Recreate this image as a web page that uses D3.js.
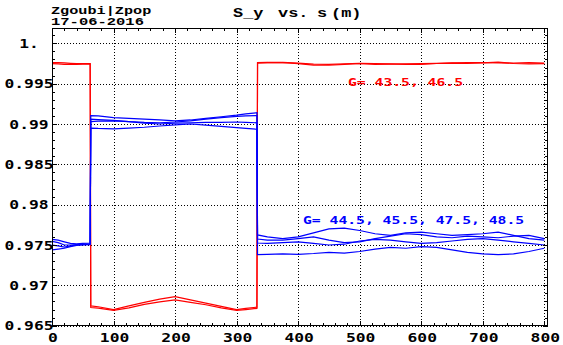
<!DOCTYPE html>
<html>
<head>
<meta charset="utf-8">
<script src="https://cdn.jsdelivr.net/npm/d3@7"></script>
<style>
  html, body { margin: 0; padding: 0; background: #fff; }
  svg { display: block; }
</style>
</head>
<body>
<svg id="chart" width="563" height="345"></svg>
<script>
// Tick values and their printed labels
const xTicks = [0, 100, 200, 300, 400, 500, 600, 700, 800];
const xTickLabels = ["0", "100", "200", "300", "400", "500", "600", "700", "800"];
const yTicks = [0.965, 0.97, 0.975, 0.98, 0.985, 0.99, 0.995, 1.0];
const yTickLabels = ["0.965", "0.97", "0.975", "0.98", "0.985", "0.99", "0.995", "1."];

// Path length s (m) at which each turn value is sampled
const sPos = [
  0, 10, 20, 30, 40, 50, 62,
  63, 75, 100, 125, 150, 175, 200, 225, 250, 275, 300, 315, 333,
  334, 350, 375, 400, 425, 450, 475, 500, 525, 550, 575, 600, 625, 650, 675, 700, 725, 750, 775, 800
];

// S_y, red group (G = 43.5, 46.5)
const redG435 = [
  0.99762, 0.99760, 0.99757, 0.99752, 0.99748, 0.99748, 0.99749,
  0.96745, 0.96735, 0.96700, 0.96745, 0.96790, 0.96830, 0.96860, 0.96820, 0.96780, 0.96740, 0.96700, 0.96715, 0.96730,
  0.99755, 0.99760, 0.99765, 0.99755, 0.99742, 0.99738, 0.99745, 0.99752, 0.99748, 0.99745, 0.99738, 0.99740, 0.99750, 0.99758, 0.99760, 0.99762, 0.99758, 0.99755, 0.99760, 0.99755
];
const redG465 = [
  0.99748, 0.99745, 0.99740, 0.99738, 0.99740, 0.99742, 0.99745,
  0.96725, 0.96718, 0.96690, 0.96720, 0.96765, 0.96795, 0.96820, 0.96790, 0.96760, 0.96720, 0.96690, 0.96700, 0.96715,
  0.99760, 0.99765, 0.99760, 0.99748, 0.99730, 0.99728, 0.99740, 0.99750, 0.99740, 0.99742, 0.99745, 0.99748, 0.99752, 0.99755, 0.99750, 0.99758, 0.99768, 0.99750, 0.99745, 0.99748
];

// S_y, blue group (G = 44.5, 45.5, 47.5, 48.5)
const blueG445 = [
  0.97570, 0.97560, 0.97540, 0.97520, 0.97515, 0.97520, 0.97525,
  0.99105, 0.99100, 0.99080, 0.99070, 0.99060, 0.99050, 0.99040, 0.99050, 0.99070, 0.99090, 0.99110, 0.99125, 0.99140,
  0.97625, 0.97600, 0.97580, 0.97600, 0.97650, 0.97700, 0.97710, 0.97680, 0.97640, 0.97620, 0.97650, 0.97660, 0.97640, 0.97620, 0.97630, 0.97640, 0.97660, 0.97620, 0.97580, 0.97560
];
const blueG455 = [
  0.97545, 0.97530, 0.97500, 0.97500, 0.97505, 0.97510, 0.97515,
  0.99060, 0.99055, 0.99045, 0.99030, 0.99020, 0.99015, 0.99025, 0.99040, 0.99060, 0.99080, 0.99095, 0.99100, 0.99105,
  0.97575, 0.97560, 0.97560, 0.97580, 0.97600, 0.97560, 0.97530, 0.97540, 0.97580, 0.97610, 0.97640, 0.97630, 0.97600, 0.97590, 0.97610, 0.97600, 0.97590, 0.97610, 0.97620, 0.97580
];
const blueG475 = [
  0.97500, 0.97490, 0.97475, 0.97490, 0.97500, 0.97505, 0.97510,
  0.99030, 0.99035, 0.99040, 0.99030, 0.99010, 0.99000, 0.99010, 0.99015, 0.99020, 0.99020, 0.99025, 0.99020, 0.99015,
  0.97525, 0.97520, 0.97530, 0.97540, 0.97520, 0.97500, 0.97510, 0.97550, 0.97570, 0.97560, 0.97540, 0.97520, 0.97530, 0.97550, 0.97570, 0.97580, 0.97560, 0.97540, 0.97520, 0.97500
];
const blueG485 = [
  0.97440, 0.97450, 0.97460, 0.97480, 0.97495, 0.97500, 0.97505,
  0.98950, 0.98945, 0.98940, 0.98950, 0.98960, 0.98975, 0.98990, 0.99000, 0.98985, 0.98970, 0.98955, 0.98945, 0.98935,
  0.97380, 0.97385, 0.97390, 0.97385, 0.97395, 0.97410, 0.97400, 0.97420, 0.97450, 0.97470, 0.97460, 0.97480, 0.97470, 0.97440, 0.97410, 0.97390, 0.97380, 0.97390, 0.97420, 0.97460
];

const series = [
  { values: redG435, color: "#ff0000" },
  { values: redG465, color: "#ff0000" },
  { values: blueG445, color: "#0000ff" },
  { values: blueG455, color: "#0000ff" },
  { values: blueG475, color: "#0000ff" },
  { values: blueG485, color: "#0000ff" }
];

const svg = d3.select("#chart");
const plotL = 52, plotR = 548, plotT = 28, plotB = 325.7;

const x = d3.scaleLinear().domain([0, 806]).range([plotL, plotR]);
const y = d3.scaleLinear().domain([0.965, 1.0019]).range([plotB, plotT]);

const monoNum = "'DejaVu Sans Mono', monospace";
const monoSerif = "'Liberation Mono', 'Courier New', monospace";

// Stretched monospace text, as the plotting package prints it
function label(g, str, px, py, opts) {
  const o = Object.assign({ size: 12, sx: 1.36, anchor: "start", fill: "#000", family: monoNum }, opts || {});
  g.append("g")
    .attr("transform", `translate(${px},${py}) scale(${o.sx},1)`)
    .append("text")
    .attr("x", 0).attr("y", 0)
    .attr("text-anchor", o.anchor)
    .attr("font-family", o.family)
    .attr("font-weight", "bold")
    .attr("font-size", o.size)
    .attr("fill", o.fill)
    .text(str);
}

// Dotted grid at the major ticks
const grid = svg.append("g").attr("stroke", "#000").attr("stroke-width", 1)
  .attr("stroke-dasharray", "1,2").attr("shape-rendering", "crispEdges");
xTicks.forEach(t => grid.append("line")
  .attr("x1", Math.round(x(t)) + 0.5).attr("x2", Math.round(x(t)) + 0.5)
  .attr("y1", plotT).attr("y2", plotB));
yTicks.forEach(t => grid.append("line")
  .attr("x1", plotL).attr("x2", plotR)
  .attr("y1", Math.round(y(t)) + 0.5).attr("y2", Math.round(y(t)) + 0.5));

// Curves
svg.append("clipPath").attr("id", "plot-clip").append("rect")
  .attr("x", plotL).attr("y", plotT).attr("width", plotR - plotL).attr("height", plotB - plotT);

const line = d3.line().x((d, i) => x(sPos[i])).y(d => y(d));
const curves = svg.append("g").attr("clip-path", "url(#plot-clip)");
series.forEach(sr => curves.append("path")
  .attr("d", line(sr.values))
  .attr("fill", "none")
  .attr("stroke", sr.color)
  .attr("stroke-width", 1.2));

// Frame
svg.append("rect")
  .attr("x", plotL + 0.5).attr("y", plotT + 0.5)
  .attr("width", plotR - plotL - 1).attr("height", plotB - plotT - 1)
  .attr("fill", "none").attr("stroke", "#000").attr("stroke-width", 1)
  .attr("shape-rendering", "crispEdges");

// Minor and major ticks on all four sides, pointing inward
const ticks = svg.append("g").attr("stroke", "#000").attr("stroke-width", 1)
  .attr("shape-rendering", "crispEdges");
const xMinor = d3.range(0, 801, 20);
xMinor.forEach(t => {
  const len = t % 100 === 0 ? 5 : 3;
  const px = Math.round(x(t)) + 0.5;
  ticks.append("line").attr("x1", px).attr("x2", px).attr("y1", plotB).attr("y2", plotB - len);
  ticks.append("line").attr("x1", px).attr("x2", px).attr("y1", plotT).attr("y2", plotT + len);
});
const yMinor = d3.range(0, 37).map(k => 0.965 + k * 0.001).filter(v => v <= 1.0019);
yMinor.forEach((t, k) => {
  const len = k % 5 === 0 ? 5 : 3;
  const py = Math.round(y(t)) + 0.5;
  ticks.append("line").attr("x1", plotL).attr("x2", plotL + len).attr("y1", py).attr("y2", py);
  ticks.append("line").attr("x1", plotR).attr("x2", plotR - len).attr("y1", py).attr("y2", py);
});

// Tick labels
const labels = svg.append("g");
xTicks.forEach((t, i) => label(labels, xTickLabels[i], x(t) + 1, 341.5, { anchor: "middle" }));
yTicks.forEach((t, i) => label(labels, yTickLabels[i], 29, y(t) + 4.5, { anchor: "middle" }));

// Title and stamp
label(labels, "S_y", 233, 17, { family: monoSerif, size: 13, sx: 1.3 });
label(labels, "vs.", 278, 17, { family: monoSerif, size: 13, sx: 1.3 });
label(labels, "s", 317, 17, { family: monoSerif, size: 13, sx: 1.3 });
label(labels, "(m)", 331, 17, { family: monoSerif, size: 13, sx: 1.3 });
label(labels, "Zgoubi|Zpop", 51, 14, { family: monoSerif, size: 10, sx: 1.52 });
label(labels, "17-06-2016", 51, 25, { family: monoSerif, size: 10, sx: 1.55 });

// Group legends
label(labels, "G= 43.5, 46.5", 348, 86, { size: 10.5, sx: 1.4, fill: "#ff0000" });
label(labels, "G= 44.5, 45.5, 47.5, 48.5", 303, 224, { size: 10.5, sx: 1.4, fill: "#0000ff" });
</script>
</body>
</html>
